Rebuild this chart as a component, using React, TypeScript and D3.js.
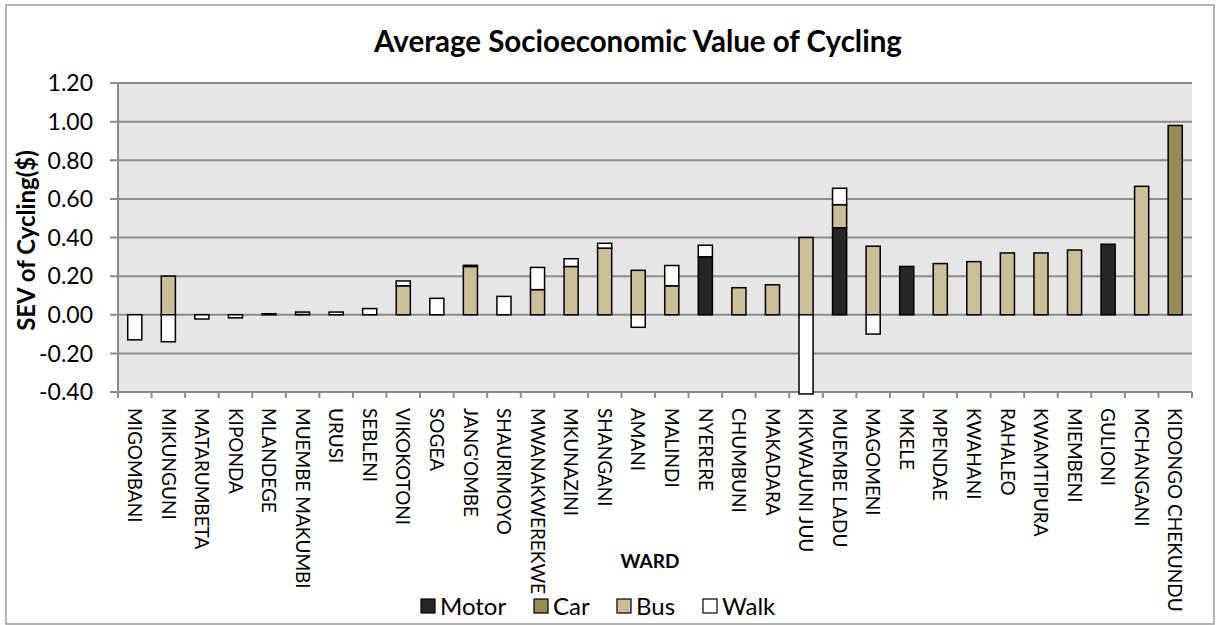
import * as d3 from 'd3';

// ── Data ──────────────────────────────────────────────────
const WARDS = [
  'MIGOMBANI', 'MIKUNGUNI', 'MATARUMBETA', 'KIPONDA', 'MLANDEGE', 'MUEMBE MAKUMBI',
  'URUSI', 'SEBLENI', 'VIKOKOTONI', 'SOGEA', "JANG'OMBE", 'SHAURIMOYO',
  'MWANAKWEREKWE', 'MKUNAZINI', 'SHANGANI', 'AMANI', 'MALINDI', 'NYERERE',
  'CHUMBUNI', 'MAKADARA', 'KIKWAJUNI JUU', 'MUEMBE LADU', 'MAGOMENI', 'MKELE',
  'MPENDAE', 'KWAHANI', 'RAHALEO', 'KWAMTIPURA', 'MIEMBENI', 'GULIONI',
  'MCHANGANI', 'KIDONGO CHEKUNDU',
];

const MOTOR = [0, 0, 0, 0, 0, 0, 0, 0, 0, 0, 0, 0, 0, 0, 0, 0, 0, 0.30, 0, 0, 0, 0.45, 0, 0.25, 0, 0, 0, 0, 0, 0.365, 0, 0];
const CAR = [0, 0, 0, 0, 0, 0, 0, 0, 0, 0, 0, 0, 0, 0, 0, 0, 0, 0, 0, 0, 0, 0, 0, 0, 0, 0, 0, 0, 0, 0, 0, 0.98];
const BUS = [0, 0.20, 0, 0, 0, 0.014, 0, 0, 0.15, 0, 0.25, 0, 0.13, 0.25, 0.345, 0.23, 0.15, 0, 0.14, 0.155, 0.40, 0.12, 0.355, 0, 0.265, 0.275, 0.32, 0.32, 0.335, 0, 0.665, 0];
const WALK = [-0.13, -0.14, -0.022, -0.016, 0.005, 0, 0.014, 0.032, 0.025, 0.085, 0.006, 0.095, 0.115, 0.04, 0.025, -0.065, 0.105, 0.06, 0, 0, -0.41, 0.085, -0.10, 0, 0, 0, 0, 0, 0, 0, 0, 0];

const Y_TICKS = [-0.4, -0.2, 0, 0.2, 0.4, 0.6, 0.8, 1.0, 1.2];
const SERIES = ['Motor', 'Car', 'Bus', 'Walk'];
const COLORS: Record<string, string> = {
  Motor: '#262626',
  Car: '#968c55',
  Bus: '#c9bf99',
  Walk: '#ffffff',
};

const W = 1216;
const H = 625;
const PLOT = { left: 118, right: 1192, top: 83, bottom: 392 };
const FONT = 'Lato, "Open Sans", sans-serif';
const GRID = '#8c8c8c';

// legend item offsets (layout only)
const LEGEND_X = [421, 534, 617, 703];

export default function App() {
  const x = d3.scaleBand<string>()
    .domain(WARDS)
    .range([PLOT.left, PLOT.right])
    .paddingInner(0.58)
    .paddingOuter(0.29);

  const y = d3.scaleLinear().domain([-0.4, 1.2]).range([PLOT.bottom, PLOT.top]);

  const rows = WARDS.map((w, i) => ({
    ward: w, Motor: MOTOR[i], Car: CAR[i], Bus: BUS[i], Walk: WALK[i],
  }));
  const stacked = d3.stack<any>().keys(SERIES).offset(d3.stackOffsetDiverging)(rows);

  const step = x.step();
  const boundaries = d3.range(WARDS.length + 1).map(i => PLOT.left + i * step);

  return (
    <svg width={W} height={H} style={{ position: 'absolute', left: 0, top: 0, background: '#fff' }} fontFamily={FONT}>
      {/* outer chart frame */}
      <rect x={6} y={5} width={1208} height={619} fill="#fff" stroke="#9a9a9a" strokeWidth={1.5} />

      {/* title */}
      <text x={638} y={52} textAnchor="middle" fontSize={29.5} fontWeight={700} fill="#000">
        Average Socioeconomic Value of Cycling
      </text>

      {/* plot background */}
      <rect x={PLOT.left} y={PLOT.top} width={PLOT.right - PLOT.left} height={PLOT.bottom - PLOT.top} fill="#e6e6e6" />

      {/* gridlines + y ticks */}
      {Y_TICKS.map(t => (
        <g key={t}>
          <line x1={PLOT.left - 8} x2={PLOT.right} y1={y(t)} y2={y(t)} stroke={GRID} strokeWidth={2} />
          <text x={93} y={y(t)} dy="0.36em" textAnchor="end" fontSize={23} fill="#000">
            {t.toFixed(2)}
          </text>
        </g>
      ))}

      {/* y axis line */}
      <line x1={PLOT.left} x2={PLOT.left} y1={PLOT.top} y2={PLOT.bottom} stroke={GRID} strokeWidth={2} />

      {/* x ticks */}
      {boundaries.map((bx, i) => (
        <line key={i} x1={bx} x2={bx} y1={PLOT.bottom} y2={PLOT.bottom + 6} stroke={GRID} strokeWidth={2} />
      ))}

      {/* bars */}
      {stacked.map(layer => (
        <g key={layer.key}>
          {layer.map((d, i) => {
            const top = y(Math.max(d[0], d[1]));
            const bot = y(Math.min(d[0], d[1]));
            if (Math.abs(d[1] - d[0]) < 1e-9) return null;
            return (
              <rect key={i}
                x={x(WARDS[i])!} y={top}
                width={x.bandwidth()} height={Math.max(0.5, bot - top)}
                fill={COLORS[layer.key]} stroke="#000" strokeWidth={1.5} />
            );
          })}
        </g>
      ))}

      {/* x labels */}
      {WARDS.map(w => {
        const cx = x(w)! + x.bandwidth() / 2;
        return (
          <text key={w} transform={`translate(${cx},408) rotate(90)`} dy="0.36em"
            fontSize={19} fill="#000">
            {w}
          </text>
        );
      })}

      {/* axis titles */}
      <text transform={`translate(35,${(PLOT.top + PLOT.bottom) / 2 + 3}) rotate(-90)`} textAnchor="middle"
        fontSize={24} fontWeight={700} fill="#000">
        SEV of Cycling($)
      </text>
      <text x={650} y={568} textAnchor="middle" fontSize={19} fontWeight={700} fill="#000">WARD</text>

      {/* legend */}
      {SERIES.map((s, i) => (
        <g key={s} transform={`translate(${LEGEND_X[i]},599)`}>
          <rect x={0} y={0} width={14} height={14} fill={COLORS[s]} stroke="#000" strokeWidth={1.2} />
          <text x={19} y={7} dy="0.36em" fontSize={24} fill="#000">{s}</text>
        </g>
      ))}
    </svg>
  );
}
